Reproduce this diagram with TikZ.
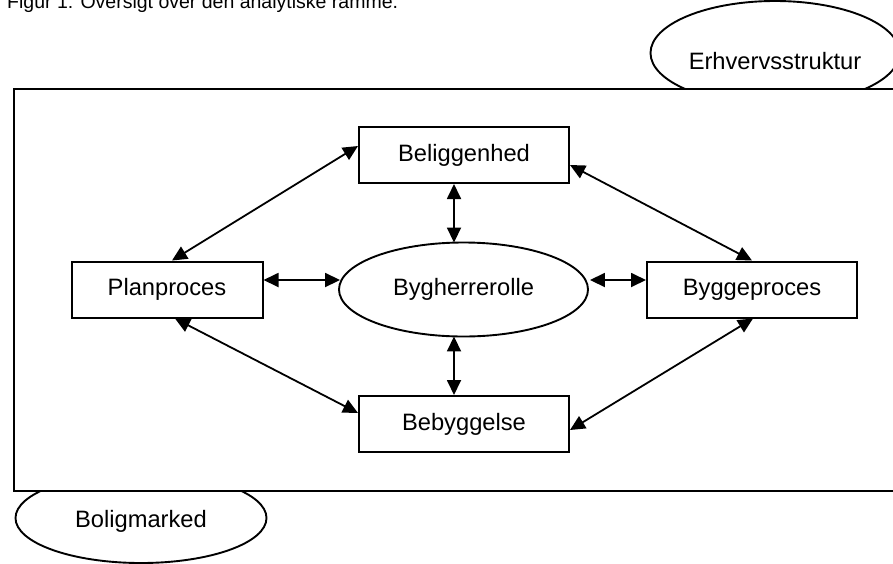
\documentclass[tikz,border=0pt]{standalone}
\usepackage{fontspec}
\setmainfont{Liberation Sans}
\usetikzlibrary{shapes.geometric,arrows.meta,calc}
\tikzset{
  boxnode/.style={draw, line width=2pt, minimum width=210pt, minimum height=56pt, inner sep=0pt, fill=white, font=\fontsize{23.7}{28}\selectfont},
  ellnode/.style={draw, ellipse, line width=1.9pt, minimum width=249pt, minimum height=94pt, inner sep=0pt, fill=white, font=\fontsize{23.7}{28}\selectfont},
  plaintext/.style={inner sep=0pt, font=\fontsize{23.7}{28}\selectfont},
  conn/.style={line width=1.8pt, {Triangle[length=15pt,width=14pt]}-{Triangle[length=15pt,width=14pt]}},
}
\begin{document}
\begin{tikzpicture}[x=1pt,y=-1pt]
\useasboundingbox (0,0) rectangle (893,563);
\fill[white] (0,0) rectangle (893,563);
% caption (cut at top, as in the reference)
\node[anchor=base west, inner sep=0pt, font=\fontsize{19.5}{22}\selectfont] (cap) at (7,8) {Figur 1: Oversigt over den analytiske ramme.};
% outer ellipses
\node[ellnode, minimum height=104pt] (erh) at (775,53) {};
\node[ellnode, minimum width=251pt, minimum height=90pt] (bol) at (141,518) {};
% frame
\node[draw, line width=2.3pt, fill=white, minimum width=887pt, minimum height=402pt, inner sep=0pt, anchor=north west] (frame) at (13,88) {};
\node[plaintext] (erhtxt) at ($(erh)+(0,8)$) {Erhvervsstruktur};
\node[plaintext] (boltxt) at ($(bol)+(0,3)$) {Boligmarked};
% inner nodes
\node[boxnode] (bel) at (464,155) {Beliggenhed};
\node[boxnode, minimum width=191pt] (plan) at (167,289.5) {Planproces};
\node[boxnode] (bygp) at (752,289.5) {Byggeproces};
\node[boxnode] (beb) at (464,424) {Bebyggelse};
\node[ellnode] (byg) at (463.5,289.5) {Bygherrerolle};
% helper points for the vertical connectors
\coordinate (vtop) at ($(bel.south)+(-10,0)$);
\coordinate (vbot) at ($(beb.north)+(-10,0)$);
% connectors
\draw[conn] ($(bel.west)+(0,-9)$) -- ($(plan.north)+(5,0)$);
\draw[conn] ($(bel.east)+(0,10)$) -- (bygp.north);
\draw[conn] ($(plan.south)+(8,0)$) -- ($(beb.west)+(0,-11)$);
\draw[conn] ($(bygp.south)+(1,0)$) -- ($(beb.east)+(0,6)$);
\draw[conn] ($(plan.east)+(0,-9.5)$) -- ($(byg.west)+(2,-9.5)$);
\draw[conn] ($(byg.east)+(1,-9.5)$) -- ($(bygp.west)+(0,-9.5)$);
\draw[conn] (vtop) -- ($(vtop |- byg.north)+(0,1)$);
\draw[conn] ($(vbot |- byg.south)+(0,-1)$) -- (vbot);
\end{tikzpicture}
\end{document}
